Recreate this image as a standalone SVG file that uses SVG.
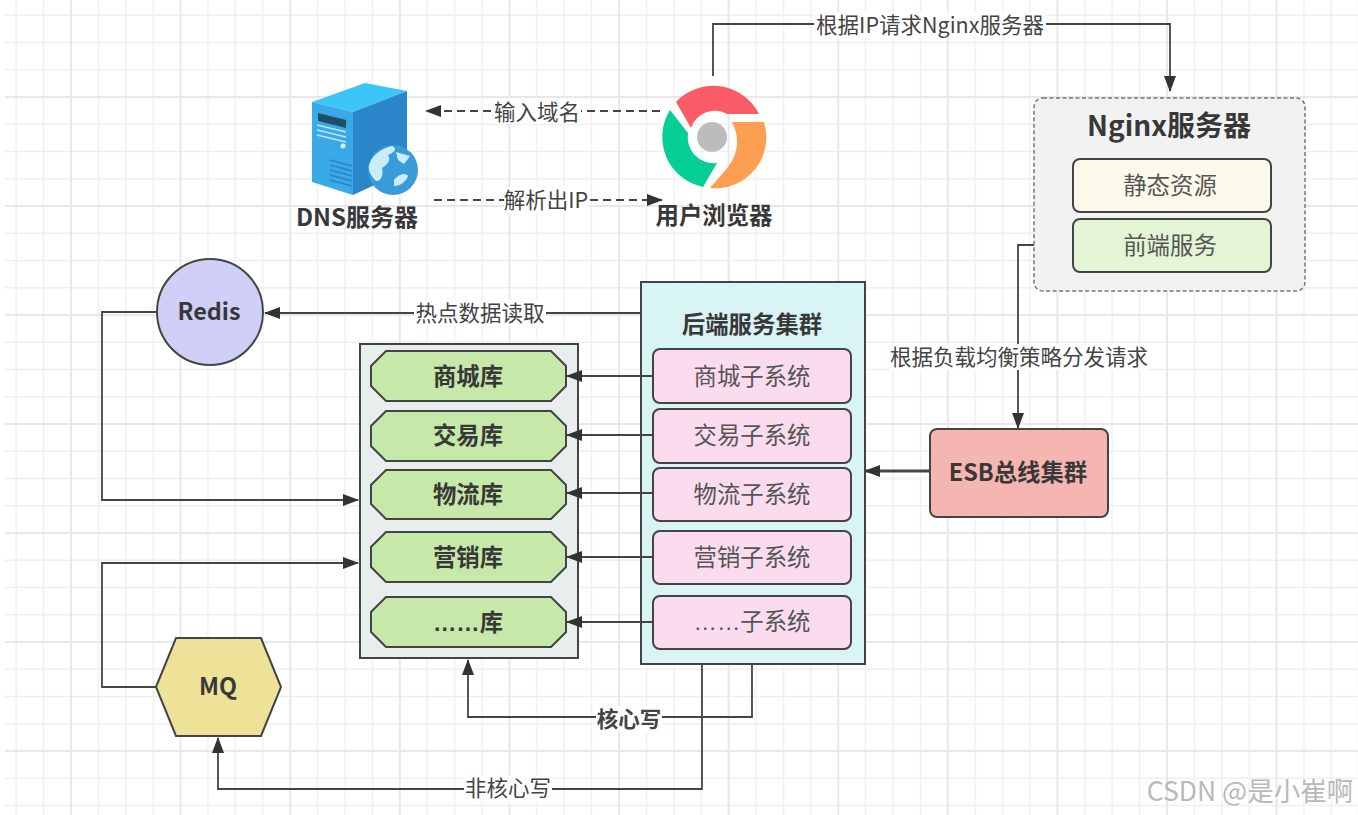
<svg xmlns="http://www.w3.org/2000/svg" width="1358" height="815" viewBox="0 0 1358 815">
<style>
text{font-family:"Noto Sans CJK SC","Noto Sans",sans-serif;fill:#383838;text-anchor:middle}
.b{font-weight:700;font-size:23.4px}
.r{font-size:23.4px;fill:#555}
.l{font-size:21.5px;fill:#444}
.box{stroke:#444;stroke-width:2}
.con{fill:none;stroke:#444;stroke-width:1.8}
.dash{stroke-dasharray:8 5}
.lb{fill:#fff}
.el{font-family:"Liberation Sans",sans-serif}
</style>
<defs>
<marker id="a" viewBox="0 0 16 12" refX="15" refY="6" markerWidth="16" markerHeight="12" markerUnits="userSpaceOnUse" orient="auto"><path d="M0 0L16 6L0 12Z" fill="#333"/></marker>
<pattern id="grid" x="-40.6" y="-14" width="109.6" height="109" patternUnits="userSpaceOnUse">
<path d="M29.4 0V109M56.8 0V109M84.2 0V109M0 29.2H109.6M0 56.5H109.6M0 83.8H109.6" stroke="#efefef" stroke-width="1.4" fill="none"/>
<path d="M2 0V109M0 2H109.6" stroke="#e8e8e8" stroke-width="2" fill="none"/>
</pattern>
</defs>
<rect width="1358" height="815" fill="#fff"/>
<rect x="5" y="0" width="1353" height="815" fill="url(#grid)"/>

<g id="connectors">
<path class="con" marker-end="url(#a)" d="M713 76V24H1170V91"/>
<path class="con dash" marker-end="url(#a)" d="M660 111H426"/>
<path class="con dash" marker-end="url(#a)" d="M434 200H662"/>
<path class="con" marker-end="url(#a)" d="M1073 245H1018V428"/>
<path class="con" style="stroke-width:3" marker-end="url(#a)" d="M930 471H865"/>
<path class="con" marker-end="url(#a)" d="M641 313H265"/>
<path class="con" marker-end="url(#a)" d="M156 312H102V500H358"/>
<path class="con" marker-end="url(#a)" d="M156 687H102V563H358"/>
<path class="con" marker-end="url(#a)" d="M752 664V717H468V660"/>
<path class="con" marker-end="url(#a)" d="M702 664V789H218V738"/>
<rect class="lb" x="814" y="12" width="232" height="26"/><text class="l" x="930" y="33">根据IP请求Nginx服务器</text>
<rect class="lb" x="493" y="98" width="88" height="26"/><text class="l" x="537" y="120">输入域名</text>
<rect class="lb" x="504" y="187" width="85" height="26"/><text class="l" x="546" y="208">解析出IP</text>
<rect class="lb" x="890" y="344" width="258" height="26"/><text class="l" x="1019" y="365">根据负载均衡策略分发请求</text>
<rect class="lb" x="414" y="300" width="132" height="26"/><text class="l" x="480" y="321">热点数据读取</text>
<rect class="lb" x="596" y="706" width="66" height="26"/><text class="l" x="629" y="727" style="font-weight:700">核心写</text>
<rect class="lb" x="464" y="776" width="88" height="26"/><text class="l" x="508" y="796">非核心写</text>
</g>

<g id="dns">
<path d="M312 102L365 83L407 91L353 112Z" fill="#3cc5f7"/>
<path d="M312 102L353 112V195L312 182Z" fill="#39a9e8"/>
<path d="M353 112L407 91V170L353 195Z" fill="#2a86c8"/>
<path d="M318 113L346 120V128L318 121Z" fill="#1f4f66"/>
<path d="M317 125L346 132M317 130L346 137M317 135L346 142" stroke="#bfe6f8" stroke-width="1.5"/>
<path d="M330 160L352 166M330 165L352 171M330 170L352 176M330 175L352 181M330 180L352 186" stroke="#2c85c2" stroke-width="1.5"/>
<circle cx="343" cy="146" r="2.5" fill="#d8f1fb"/>
<circle cx="393" cy="170" r="25" fill="#3b9bd8"/>
<path d="M369 165C372 155 382 148 392 146C398 148 394 153 388 155C392 160 386 166 382 168C384 176 380 182 376 181C371 176 368 171 369 165Z" fill="#c9edfb"/>
<path d="M396 152L410 156L404 164L398 160Z" fill="#c9edfb"/>
<path d="M394 180C398 174 406 172 408 176C406 182 400 186 394 186Z" fill="#c9edfb"/>
<text class="b" x="357" y="226" style="font-size:24px">DNS服务器</text>
</g>

<g id="browser">
<path d="M676 102A51 51 0 0 1 759 114H727A25 25 0 0 0 691 128Z" fill="#f95c66"/>
<path d="M670 110L688 133A26 26 0 0 0 717 163L703 187A51 51 0 0 1 670 110Z" fill="#05cf96"/>
<path d="M732 122H764A51 51 0 0 1 710 188L728 167Q744 146 732 122Z" fill="#fd9f50"/>
<circle cx="712" cy="137" r="15" fill="#bcbcbc"/>
<text class="b" x="714" y="224">用户浏览器</text>
</g>

<g id="nginx">
<rect x="1034" y="98" width="271" height="193" rx="9" fill="#f2f2f2" stroke="#777" stroke-width="1.5" stroke-dasharray="4 2.5"/>
<text x="1169" y="136" font-size="28" style="font-weight:700">Nginx服务器</text>
</g>
<g id="static"><rect class="box" x="1073" y="159" width="198" height="53" rx="7" fill="#fbf9e9"/><text class="r" x="1170" y="194">静态资源</text></g>
<g id="frontend"><rect class="box" x="1073" y="219" width="198" height="53" rx="7" fill="#e3f5d4"/><text class="r" x="1170" y="254">前端服务</text></g>

<g id="redis"><circle class="box" cx="210" cy="312" r="53" fill="#cfcff7"/><text class="b" x="209" y="320">Redis</text></g>
<g id="mq"><path class="box" d="M156 687L176 638H261L281 687L261 736H176Z" fill="#eee298"/><text class="b" x="218" y="695">MQ</text></g>

<g id="db-panel"><rect class="box" x="360" y="344" width="218" height="314" fill="#e8edee"/></g>
<g id="db1"><path class="box" d="M386 351H551L566 366V386L551 401H386L371 386V366Z" fill="#c6e8a9"/><text class="b" x="468" y="385">商城库</text></g>
<g id="db2"><path class="box" d="M386 411H551L566 426V446L551 461H386L371 446V426Z" fill="#c6e8a9"/><text class="b" x="468" y="444">交易库</text></g>
<g id="db3"><path class="box" d="M386 470H551L566 485V504L551 519H386L371 504V485Z" fill="#c6e8a9"/><text class="b" x="468" y="503">物流库</text></g>
<g id="db4"><path class="box" d="M386 532H551L566 547V567L551 582H386L371 567V547Z" fill="#c6e8a9"/><text class="b" x="468" y="566">营销库</text></g>
<g id="db5"><path class="box" d="M386 597H551L566 612V632L551 647H386L371 632V612Z" fill="#c6e8a9"/><text class="b" x="468" y="631"><tspan class="el">……</tspan>库</text></g>

<g id="backend"><rect class="box" x="641" y="282" width="224" height="382" fill="#d9f4f5"/><text class="b" x="752" y="333">后端服务集群</text></g>
<g id="sys1"><rect class="box" x="653" y="349" width="198" height="54" rx="7" fill="#fbdcee"/><text class="r" x="752" y="385">商城子系统</text></g>
<g id="sys2"><rect class="box" x="653" y="409" width="198" height="54" rx="7" fill="#fbdcee"/><text class="r" x="752" y="444">交易子系统</text></g>
<g id="sys3"><rect class="box" x="653" y="468" width="198" height="53" rx="7" fill="#fbdcee"/><text class="r" x="752" y="503">物流子系统</text></g>
<g id="sys4"><rect class="box" x="653" y="531" width="198" height="53" rx="7" fill="#fbdcee"/><text class="r" x="752" y="566">营销子系统</text></g>
<g id="sys5"><rect class="box" x="653" y="596" width="198" height="53" rx="7" fill="#fbdcee"/><text class="r" x="752" y="630"><tspan class="el">……</tspan>子系统</text></g>
<g id="esb"><rect class="box" x="930" y="429" width="178" height="88" rx="7" fill="#f5b5b0"/><text class="b" x="1018" y="481">ESB总线集群</text></g>

<g id="db-links">
<path class="con" marker-end="url(#a)" d="M653 376H567"/>
<path class="con" marker-end="url(#a)" d="M653 435H567"/>
<path class="con" marker-end="url(#a)" d="M653 493H567"/>
<path class="con" marker-end="url(#a)" d="M653 557H567"/>
<path class="con" marker-end="url(#a)" d="M653 622H567"/>
</g>
<text x="1250" y="801" font-size="26.5" style="fill:#b9b9b9">CSDN @是小崔啊</text>
</svg>
